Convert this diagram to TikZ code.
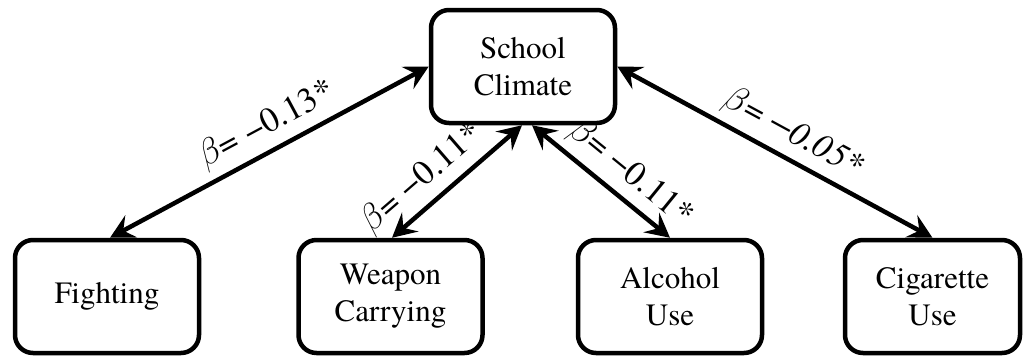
\documentclass[tikz,border=0pt]{standalone}
\usepackage{fontspec}
\setmainfont{texgyretermes}[Extension=.otf, UprightFont=*-regular, ItalicFont=*-italic, BoldFont=*-bold]
\usetikzlibrary{arrows.meta}
\newcommand{\bigbeta}{\scalebox{1.45}{$\beta$}}
\begin{document}
\begin{tikzpicture}[x=1pt,y=-1pt,
  box/.style={draw, line width=4.5pt, rounded corners=18pt, minimum width=#1,
    minimum height=113pt, align=center, inner sep=0pt,
    font=\fontsize{31}{37}\selectfont},
  box/.default=184pt,
  link/.style={line width=4.5pt,
    {Stealth[length=24pt,width=25pt,inset=9pt]}-{Stealth[length=24pt,width=25pt,inset=9pt]}},
  lab/.style={sloped, above=5pt, inner sep=2pt, font=\fontsize{35}{40}\selectfont}]
\useasboundingbox (0,0) rectangle (1023,357);
\node[box] (S) at (523,66.5) {School\\Climate};
\node[box] (F) at (107,296.5) {Fighting};
\node[box] (W) at (390.5,296.5) {Weapon\\Carrying};
\node[box] (A) at (670,296.5) {Alcohol\\Use};
\node[box=175pt] (C) at (932.5,296.5) {Cigarette\\Use};
\draw[link] ([xshift=3pt]F.north) -- (S.west)
  node[lab, pos=0.53] {\bigbeta= −0.13*};
\draw[link] ([xshift=1.5pt]W.north) -- ([xshift=-1pt]S.south)
  node[lab, pos=0.36] {\bigbeta= −0.11*};
\draw[link] ([xshift=9pt]S.south) -- (A.north)
  node[lab, pos=0.6] {\bigbeta= −0.11*};
\draw[link] (S.east) -- (C.north)
  node[lab, pos=0.52] {\bigbeta= \textit{−0.05*}};
\end{tikzpicture}
\end{document}
